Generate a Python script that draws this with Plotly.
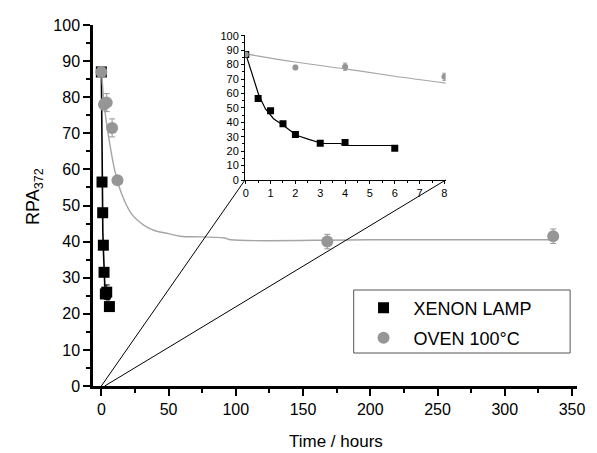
import plotly.graph_objects as go

# ---------------- data ----------------
time_xe = [0, 0.5, 1, 1.5, 2, 3, 4, 6]
rpa_xe = [87, 56.5, 48, 39, 31.5, 25.5, 26, 22]
err_xe = [0.5, 1, 1, 1, 0.5, 1, 2, 0.5]

time_ov = [0, 2, 4, 8, 12, 168, 336]
rpa_ov = [87, 78, 78.5, 71.5, 57, 40, 41.5]
err_ov = [1, 1.5, 2.5, 2.5, 1, 2, 2]

# fitted curves
fit_ov_t = [0, 2.6, 6.2, 9.9, 14.8, 22, 31.8, 40, 50, 58.6, 75, 91.5, 96.3, 200, 336]
fit_ov_v = [87.6, 76.5, 67.3, 59.9, 53.5, 47.9, 44.5, 43, 42.2, 41.5, 41.3, 41, 40.5, 40.5, 40.5]

fit_xe_t = [0, 0.2, 0.33, 0.53, 0.79, 1.12, 1.51, 2.04, 2.57, 3.09, 3.82, 3.95, 6.05]
fit_xe_v = [87.4, 75.9, 69, 58.6, 49.4, 42.5, 37.9, 31, 28, 25.3, 25.3, 23.9, 23.9]

fit_ov_in_t = [0, 2, 4, 6, 8.1]
fit_ov_in_v = [87.4, 81.8, 77, 71.9, 67.1]

x_ticks = [0, 50, 100, 150, 200, 250, 300, 350]
x_labels = ["0", "50", "100", "150", "200", "250", "300", "350"]
inset_x_ticks = [0, 1, 2, 3, 4, 5, 6, 7, 8]

XENON = "black"
OVEN = "rgb(150,150,150)"
OVEN_LINE = "rgb(165,165,165)"
FONT = "Liberation Sans, Arial, sans-serif"

fig = go.Figure()

# ---- main panel ----
fig.add_trace(go.Scatter(x=fit_xe_t, y=fit_xe_v, mode="lines",
                         line=dict(color=XENON, width=1.6), showlegend=False,
                         xaxis="x", yaxis="y", hoverinfo="skip"))
fig.add_trace(go.Scatter(x=fit_ov_t, y=fit_ov_v, mode="lines",
                         line=dict(color=OVEN_LINE, width=1.4, shape="spline"), showlegend=False,
                         xaxis="x", yaxis="y", hoverinfo="skip"))
fig.add_trace(go.Scatter(x=time_xe, y=rpa_xe, mode="markers", name="\u00a0\u00a0XENON LAMP",
                         marker=dict(symbol="square", size=11, color=XENON),
                         error_y=dict(type="data", array=err_xe, color=XENON, thickness=1, width=3),
                         xaxis="x", yaxis="y", legend="legend"))
fig.add_trace(go.Scatter(x=time_ov, y=rpa_ov, mode="markers", name="\u00a0\u00a0OVEN 100\u00b0C",
                         marker=dict(symbol="circle", size=12, color=OVEN),
                         error_y=dict(type="data", array=err_ov, color=OVEN, thickness=1, width=3),
                         xaxis="x", yaxis="y", legend="legend2"))

# ---- inset ----
fig.add_trace(go.Scatter(x=fit_xe_t, y=fit_xe_v, mode="lines",
                         line=dict(color=XENON, width=1.2), showlegend=False,
                         xaxis="x2", yaxis="y2", hoverinfo="skip"))
fig.add_trace(go.Scatter(x=fit_ov_in_t, y=fit_ov_in_v, mode="lines",
                         line=dict(color=OVEN_LINE, width=1.2, shape="spline"), showlegend=False,
                         xaxis="x2", yaxis="y2", hoverinfo="skip"))
fig.add_trace(go.Scatter(x=time_xe, y=rpa_xe, mode="markers", showlegend=False,
                         marker=dict(symbol="square", size=7, color=XENON),
                         error_y=dict(type="data", array=err_xe, color=XENON, thickness=1, width=2),
                         xaxis="x2", yaxis="y2"))
fig.add_trace(go.Scatter(x=time_ov, y=rpa_ov, mode="markers", showlegend=False,
                         marker=dict(symbol="circle", size=6, color=OVEN),
                         error_y=dict(type="data", array=err_ov, color=OVEN, thickness=1, width=2),
                         xaxis="x2", yaxis="y2", cliponaxis=True))

W, H = 597, 453
ML, MR, MT, MB = 93, 12, 25, 67
PW, PH = W - ML - MR, H - MT - MB

def px_x(p):
    return (p - ML) / PW

def px_y(p):
    return (H - MB - p) / PH

XR = [-6.2, 353.7]
YR = [0, 100]
inset_dx = [px_x(247.5), px_x(451.5)]
inset_dy = [px_y(180), px_y(35)]

main_axis = dict(showgrid=False, zeroline=False, showline=True, linecolor="black",
                 linewidth=2.5, ticks="outside", ticklen=7, tickwidth=2, tickcolor="black",
                 tickfont=dict(family=FONT, size=16, color="black"))

fig.update_layout(
    width=W, height=H,
    margin=dict(l=ML, r=MR, t=MT, b=MB),
    paper_bgcolor="white", plot_bgcolor="white",
    font=dict(family=FONT, color="black"),
    xaxis=dict(**main_axis, range=XR, tickvals=x_ticks, ticktext=x_labels,
               minor=dict(dtick=25, tick0=0, ticks="outside", ticklen=4, tickwidth=2, tickcolor="black"),
               domain=[0, 1], anchor="y"),
    yaxis=dict(**main_axis, range=YR, dtick=10, tick0=0,
               minor=dict(dtick=5, tick0=0, ticks="outside", ticklen=4, tickwidth=2, tickcolor="black"),
               domain=[0, 1], anchor="x"),
    xaxis2=dict(showgrid=False, zeroline=False, showline=True, linecolor="black", linewidth=1,
                ticks="outside", ticklen=3, tickwidth=1, tickcolor="black",
                range=[-0.03, 8.05], tickvals=inset_x_ticks,
                minor=dict(dtick=0.5, tick0=0, ticks="outside", ticklen=2, tickwidth=1, tickcolor="black"),
                tickfont=dict(family=FONT, size=11, color="black"),
                domain=inset_dx, anchor="y2"),
    yaxis2=dict(showgrid=False, zeroline=False, showline=True, linecolor="black", linewidth=1,
                ticks="outside", ticklen=3, tickwidth=1, tickcolor="black",
                range=[0, 100.5], dtick=10, tick0=0,
                minor=dict(dtick=5, tick0=0, ticks="outside", ticklen=2, tickwidth=1, tickcolor="black"),
                tickfont=dict(family=FONT, size=11, color="black"),
                domain=inset_dy, anchor="x2"),
    legend=dict(x=px_x(368), y=px_y(308), xanchor="left", yanchor="middle",
                bgcolor="rgba(0,0,0,0)", borderwidth=0,
                font=dict(family=FONT, size=18, color="black")),
    legend2=dict(x=px_x(368), y=px_y(338), xanchor="left", yanchor="middle",
                 bgcolor="rgba(0,0,0,0)", borderwidth=0,
                 font=dict(family=FONT, size=18, color="black")),
    showlegend=True,
)

# connecting lines from main origin to inset corners (computed in main data coords)
def paper_to_xdata(p):
    return XR[0] + p * (XR[1] - XR[0])

def paper_to_ydata(p):
    return YR[0] + p * (YR[1] - YR[0])

corner_y = paper_to_ydata(inset_dy[0])
fig.add_shape(type="line", xref="x", yref="y", x0=0, y0=0,
              x1=paper_to_xdata(inset_dx[0]), y1=corner_y, line=dict(color="black", width=1))
fig.add_shape(type="line", xref="x", yref="y", x0=2.5, y0=0,
              x1=paper_to_xdata(inset_dx[1]), y1=corner_y, line=dict(color="black", width=1))

# legend frame
fig.add_shape(type="rect", xref="paper", yref="paper",
              x0=px_x(358), x1=px_x(578), y0=px_y(353), y1=px_y(290),
              line=dict(color="#555555", width=1), fillcolor="rgba(0,0,0,0)")

# axis titles
fig.add_annotation(text="Time / hours", xref="paper", yref="paper",
                   x=px_x(340), y=px_y(441), showarrow=False,
                   xanchor="center", yanchor="middle",
                   font=dict(family=FONT, size=17, color="black"))
fig.add_annotation(text="RPA<sub>372</sub>", xref="paper", yref="paper",
                   x=px_x(33), y=px_y(196), showarrow=False, textangle=-90,
                   xanchor="center", yanchor="middle",
                   font=dict(family=FONT, size=18, color="black"))

fig.write_html("out.html")
